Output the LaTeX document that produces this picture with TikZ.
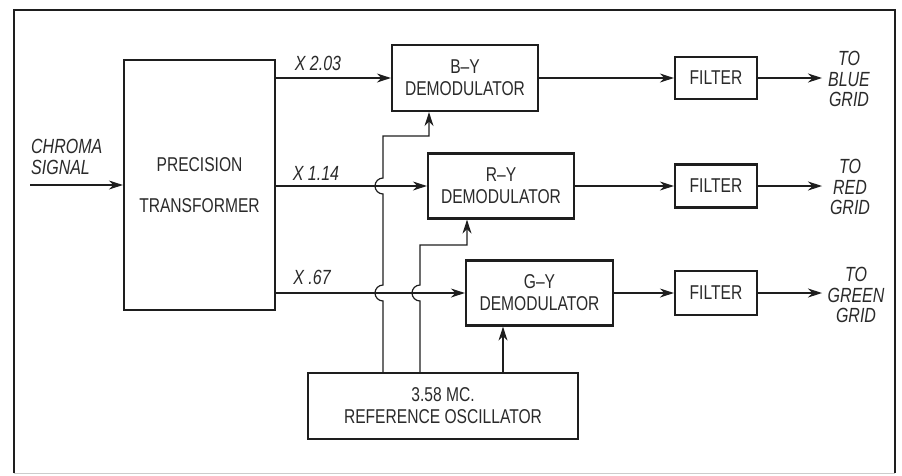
\documentclass[tikz,border=0pt]{standalone}
\usepackage{fontspec}
\setmainfont{Liberation Sans}[FakeStretch=0.78]
\usetikzlibrary{arrows.meta}
\definecolor{ink}{HTML}{1E1E1E}
\definecolor{txt}{HTML}{2A2A2A}
\begin{document}
\begin{tikzpicture}[x=1pt,y=-1pt,
  box/.style={draw=ink, line width=2.2pt, inner sep=0pt, align=center, text=txt,
              font=\fontsize{20}{22}\selectfont},
  wire/.style={draw=ink, line width=1.2pt},
  arr/.style={wire, -{Stealth[length=14pt,width=9pt,inset=4.5pt]}},
  lab/.style={text=txt, font=\fontsize{20.5}{20.5}\selectfont\itshape, inner sep=0pt, align=center}]
\useasboundingbox (0,0) rectangle (902,475);
% frame
\draw[ink, line width=2.8pt] (14,473) -- (14,10) -- (895,10) -- (895,473);
\draw[gray!40, line width=1pt] (14,473) -- (895,473);

% blocks
\node[box, minimum width=151pt, minimum height=250pt] (pt) at (199.5,185) {PRECISION\\[19pt]TRANSFORMER};
\node[box, minimum width=146pt, minimum height=66pt] (by) at (465,78) {B--Y\\DEMODULATOR};
\node[box, minimum width=146pt, minimum height=65pt] (ry) at (501,186) {R--Y\\DEMODULATOR};
\node[box, minimum width=147pt, minimum height=65pt] (gy) at (539.5,293) {G--Y\\DEMODULATOR};
\node[box, minimum width=270pt, minimum height=66pt] (osc) at (443,406) {3.58 MC.\\REFERENCE OSCILLATOR};
\node[box, minimum width=82pt, minimum height=42pt] (f1) at (716,78) {FILTER};
\node[box, minimum width=82pt, minimum height=43pt] (f2) at (716,186) {FILTER};
\node[box, minimum width=82pt, minimum height=44pt] (f3) at (716,293) {FILTER};

% labels
\node[lab, align=left, anchor=west] (chroma) at (31,157) {CHROMA\\SIGNAL};
\node[lab] (l1) at (318,63) {X 2.03};
\node[lab] (l2) at (316,173) {X 1.14};
\node[lab] (l3) at (312,277) {X .67};
\node[lab] (tb) at (849,79) {TO\\BLUE\\GRID};
\node[lab] (tr) at (850,187) {TO\\RED\\GRID};
\node[lab] (tg) at (856,295) {TO\\GREEN\\GRID};

% coordinates
\coordinate (cin) at (30,185);
\coordinate (t1) at (822,78);
\coordinate (t2) at (822,186);
\coordinate (t3) at (822,293);
\coordinate (v1) at (383,136);
\coordinate (b1) at (429,136);
\coordinate (v2) at (420,245);
\coordinate (r1) at (467,245);
\coordinate (g1) at (503,350);

% signal path
\draw[arr] (cin) -- (pt.west);
\draw[arr] (pt.east |- by.west) -- (by.west);
\draw[arr] (pt.east |- ry.west) -- (ry.west);
\draw[arr] (pt.east |- gy.west) -- (gy.west);
\draw[arr] (by.east) -- (f1.west);
\draw[arr] (ry.east) -- (f2.west);
\draw[arr] (gy.east) -- (f3.west);
\draw[arr] (f1.east) -- (t1);
\draw[arr] (f2.east) -- (t2);
\draw[arr] (f3.east) -- (t3);

% reference feeds
\draw[arr] (v1 |- osc.north) -- (383,301) arc[start angle=90,end angle=270,radius=8]
   -- (383,194) arc[start angle=90,end angle=270,radius=8] -- (v1) -- (b1) -- (b1 |- by.south);
\draw[arr] (v2 |- osc.north) -- (420,301) arc[start angle=90,end angle=270,radius=8]
   -- (v2) -- (r1) -- (r1 |- ry.south);
\draw[arr] (g1 |- osc.north) -- (g1 |- gy.south);
\end{tikzpicture}
\end{document}
